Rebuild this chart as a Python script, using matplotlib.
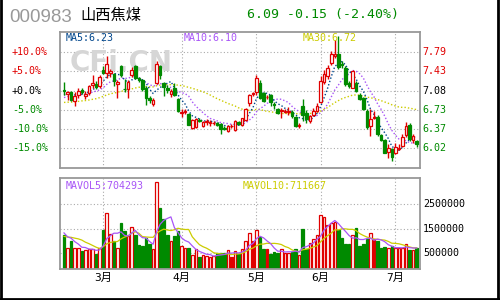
import numpy as np
import pandas as pd
import matplotlib
matplotlib.use("Agg")
import matplotlib.pyplot as plt
from matplotlib.lines import Line2D

# ---- data (daily bars) ----
opens = [7.09, 7.01, 7.05, 6.88, 6.99, 7.09, 6.98, 7.04, 7.18, 7.21,
         7.16, 7.47, 7.41, 7.40, 7.38, 7.21, 7.54, 7.11, 7.11, 7.36,
         7.53, 7.31, 7.28, 7.13, 6.95, 6.83, 7.22, 7.53, 7.22, 7.13,
         7.01, 7.13, 6.93, 6.66, 6.69, 6.64, 6.38, 6.40, 6.54, 6.42,
         6.50, 6.48, 6.47, 6.47, 6.46, 6.39, 6.33, 6.42, 6.35, 6.49,
         6.45, 6.53, 6.84, 7.02, 7.06, 7.22, 7.03, 6.96, 6.99, 6.83,
         6.74, 6.70, 6.69, 6.69, 6.69, 6.59, 6.43, 6.80, 6.66, 6.51,
         6.62, 6.71, 6.86, 7.24, 7.35, 7.59, 7.72, 7.75, 7.58, 7.50,
         7.22, 7.13, 7.22, 7.00, 6.94, 6.70, 6.42, 6.58, 6.59, 6.26,
         6.16, 5.94, 5.99, 5.93, 6.00, 6.05, 6.25, 6.45, 6.17, 6.14]
highs = [7.23, 7.08, 7.07, 7.05, 7.12, 7.12, 7.08, 7.19, 7.36, 7.25,
         7.37, 7.54, 7.72, 7.48, 7.41, 7.27, 7.56, 7.30, 7.27, 7.52,
         7.56, 7.34, 7.30, 7.16, 6.97, 6.95, 7.62, 7.55, 7.24, 7.18,
         7.11, 7.22, 6.95, 6.74, 6.74, 6.66, 6.55, 6.58, 6.57, 6.51,
         6.56, 6.53, 6.51, 6.49, 6.48, 6.42, 6.45, 6.46, 6.53, 6.52,
         6.58, 6.76, 7.02, 7.06, 7.36, 7.28, 7.05, 7.00, 7.02, 6.86,
         6.76, 6.76, 6.74, 6.77, 6.72, 6.61, 6.47, 6.93, 6.72, 6.63,
         6.76, 6.85, 7.35, 7.46, 7.55, 7.82, 8.02, 8.09, 7.62, 7.53,
         7.25, 7.47, 7.25, 7.03, 6.96, 6.73, 6.73, 6.71, 6.62, 6.28,
         6.18, 6.08, 6.02, 6.10, 6.08, 6.28, 6.49, 6.47, 6.27, 6.17]
lows = [6.99, 6.90, 6.89, 6.79, 6.95, 7.02, 6.93, 7.00, 7.12, 7.10,
        7.13, 7.38, 7.32, 7.33, 7.16, 6.94, 7.33, 7.06, 6.94, 7.33,
        7.30, 7.24, 7.08, 6.82, 6.85, 6.80, 7.20, 7.30, 6.98, 7.04,
        6.96, 6.98, 6.68, 6.59, 6.64, 6.44, 6.36, 6.38, 6.50, 6.40,
        6.45, 6.43, 6.44, 6.43, 6.28, 6.35, 6.31, 6.38, 6.33, 6.44,
        6.43, 6.52, 6.80, 6.97, 7.00, 6.93, 6.87, 6.93, 6.80, 6.74,
        6.64, 6.57, 6.66, 6.62, 6.58, 6.40, 6.38, 6.51, 6.48, 6.47,
        6.60, 6.68, 6.84, 7.20, 7.30, 7.55, 7.68, 7.48, 7.50, 7.17,
        7.12, 7.12, 7.05, 6.90, 6.72, 6.37, 6.24, 6.55, 6.24, 6.14,
        5.92, 5.83, 5.77, 5.90, 5.97, 6.03, 6.22, 6.15, 6.10, 6.03]
closes = [7.08, 7.05, 6.91, 6.98, 7.07, 7.06, 7.01, 7.16, 7.22, 7.15,
          7.33, 7.41, 7.57, 7.44, 7.25, 7.23, 7.36, 7.10, 7.23, 7.47,
          7.32, 7.27, 7.11, 6.94, 6.90, 6.91, 7.58, 7.36, 7.14, 7.09,
          7.07, 6.99, 6.70, 6.68, 6.70, 6.45, 6.53, 6.56, 6.52, 6.49,
          6.51, 6.49, 6.48, 6.45, 6.37, 6.37, 6.43, 6.42, 6.51, 6.46,
          6.57, 6.74, 7.00, 7.02, 7.32, 6.95, 6.89, 6.96, 6.86, 6.81,
          6.66, 6.72, 6.71, 6.71, 6.60, 6.42, 6.44, 6.63, 6.55, 6.60,
          6.70, 6.80, 7.25, 7.38, 7.50, 7.75, 7.76, 7.52, 7.56, 7.20,
          7.17, 7.45, 7.08, 6.92, 6.74, 6.40, 6.55, 6.58, 6.27, 6.16,
          5.93, 6.02, 5.85, 6.04, 6.01, 6.22, 6.42, 6.18, 6.24, 6.09]
volumes = [1260000, 710000, 1010000, 710000, 710000, 600000, 650000, 690000, 690000, 470000,
           710000, 1450000, 2160000, 1290000, 990000, 710000, 1730000, 1420000, 1190000, 1580000,
           1260000, 850000, 810000, 1120000, 880000, 690000, 3410000, 2350000, 1900000, 1260000,
           1010000, 1200000, 1400000, 780000, 710000, 710000, 420000, 690000, 360000, 420000,
           410000, 360000, 370000, 510000, 510000, 510000, 650000, 360000, 590000, 470000,
           690000, 1010000, 1330000, 1010000, 1450000, 1180000, 690000, 690000, 470000, 550000,
           530000, 690000, 530000, 510000, 550000, 690000, 450000, 1490000, 670000, 910000,
           1080000, 1230000, 2070000, 1970000, 1640000, 1730000, 1780000, 1460000, 1120000, 890000,
           890000, 1230000, 1530000, 780000, 880000, 1090000, 1330000, 1090000, 1010000, 710000,
           740000, 710000, 780000, 710000, 710000, 710000, 880000, 640000, 640000, 710000]

# closes / volumes before the first shown day (estimated from where the MA lines start)
prior_closes = [6.92, 6.88, 6.85, 6.80, 6.78, 6.82, 6.86, 6.83, 6.79, 6.75,
                6.72, 6.76, 6.80, 6.84, 6.81, 6.78, 6.80, 6.83, 6.86, 6.82,
                6.86, 6.90, 6.93, 6.88, 6.93, 6.95, 6.99, 7.00, 6.98]
prior_volumes = [1000000, 1100000, 1050000, 1000000, 1100000, 1500000, 1300000, 1400000, 1200000]

base_price = 7.08
pct_levels = [10, 5, 0, -5, -10, -15]
vol_levels = [500000, 1500000, 2500000]
month_idx = [11, 33, 54, 72, 93]
month_labels = ["3月", "4月", "5月", "6月", "7月"]

code = "000983"
name = "山西焦煤"
quote = "6.09 -0.15 (-2.40%)"
ma_texts = ["MA5:6.23", "MA10:6.10", "MA30:6.72"]
vol_texts = ["MAVOL5:704293", "MAVOL10:711667"]

RED = "#e00000"
GREEN = "#008a00"
MA5_C = "#00468c"
MA10_C = "#a855f7"
MA30_C = "#cccc00"
GRID = "#aaaaaa"
FRAME = "#999999"
MONO = ["DejaVu Sans Mono", "Noto Sans CJK SC"]


def main():
    n = len(closes)
    idx = np.arange(n)
    o = np.array(opens)
    h = np.array(highs)
    l = np.array(lows)
    c = np.array(closes)
    v = np.array(volumes, dtype=float)

    all_c = pd.Series(prior_closes + closes)
    ma5 = all_c.rolling(5).mean().values[-n:]
    ma10 = all_c.rolling(10).mean().values[-n:]
    ma30 = all_c.rolling(30).mean().values[-n:]
    all_v = pd.Series(prior_volumes + volumes, dtype=float)
    mv5 = all_v.rolling(5).mean().values[-n:]
    mv10 = all_v.rolling(10).mean().values[-n:]

    up = c > o
    flat = c == o
    col = np.where(up | flat, RED, GREEN)

    fig = plt.figure(figsize=(5, 3), dpi=100)
    fig.patch.set_facecolor("white")

    W, H = 500.0, 300.0
    def fx(px):
        return px / W
    def fy(py):
        return 1 - py / H

    xlo, xhi = (60 - 64) / 3.563, (420 - 64) / 3.563

    # ---------- price panel ----------
    ax = fig.add_axes([fx(60), fy(168), fx(360), (168 - 31.5) / H])
    ax.set_xlim(xlo, xhi)
    ax.set_ylim(5.643, 8.176)

    price_levels = [base_price * (1 + p / 100.0) for p in pct_levels]
    for y in price_levels:
        ax.axhline(y, color=GRID, lw=0.8, ls=(0, (1, 2)), zorder=0)
    for m in month_idx:
        ax.axvline(m, color=GRID, lw=0.8, ls=(0, (1, 2)), zorder=0)

    ax.text(fx(70 - 60) / fx(360), 0.77, "CFi.CN", transform=ax.transAxes,
            fontsize=20, fontweight="bold", color="#d6d6d6", va="center",
            ha="left", zorder=0.5)

    ax.plot(idx, ma30, color=MA30_C, lw=1, ls=(0, (1, 1.5)), zorder=1.5)
    ax.plot(idx, ma10, color=MA10_C, lw=1, ls=(0, (1, 1.5)), zorder=1.5)
    ax.plot(idx, ma5, color=MA5_C, lw=1, ls=(0, (1, 1.5)), zorder=1.5)

    ax.vlines(idx, l, h, colors=col, lw=1, zorder=2)
    body_lo = np.minimum(o, c)
    body_h = np.maximum(np.abs(c - o), 0.006)
    face = np.where(up, "white", col)
    ax.bar(idx, body_h, bottom=body_lo, width=0.72, color=face,
           edgecolor=col, linewidth=0.9, zorder=3)

    for s in ax.spines.values():
        s.set_color(FRAME)
        s.set_linewidth(1.3)
    ax.set_xticks([])
    ax.set_yticks([])

    for p, y in zip(pct_levels, price_levels):
        tc = RED if p > 0 else ("black" if p == 0 else GREEN)
        yy = ax.transData.transform((0, y))[1]
        yf = fig.transFigure.inverted().transform((0, yy))[1]
        fig.text(fx(12), yf, "%+.1f%%" % p, color=tc, fontsize=7.2,
                 family=MONO, va="center", ha="left")
        fig.text(fx(422), yf, "%.2f" % y, color=tc, fontsize=7.2,
                 family=MONO, va="center", ha="left")

    for t, xp, cc in zip(ma_texts, [66, 184, 303], [MA5_C, MA10_C, MA30_C]):
        fig.text(fx(xp), fy(38), t, color=cc, fontsize=7.2, family=MONO,
                 va="center", ha="left")

    # ---------- volume panel ----------
    vlo, vhi = -140000, 3560000
    ax2 = fig.add_axes([fx(60), fy(269), fx(360), (269 - 178.3) / H])
    ax2.set_xlim(xlo, xhi)
    ax2.set_ylim(vlo, vhi)
    for y in vol_levels:
        ax2.axhline(y, color=GRID, lw=0.8, ls=(0, (1, 2)), zorder=0)
    for m in month_idx:
        ax2.axvline(m, color=GRID, lw=0.8, ls=(0, (1, 2)), zorder=0)

    ax2.bar(idx, v - vlo, bottom=vlo, width=0.72, color=face,
            edgecolor=col, linewidth=0.9, zorder=2)
    ax2.plot(idx, mv10, color=MA30_C, lw=0.9, zorder=4)
    ax2.plot(idx, mv5, color=MA10_C, lw=0.9, zorder=4)

    for s in ax2.spines.values():
        s.set_color(FRAME)
        s.set_linewidth(1.3)
    ax2.set_xticks([])
    ax2.set_yticks([])

    for y in vol_levels:
        yy = ax2.transData.transform((0, y))[1]
        yf = fig.transFigure.inverted().transform((0, yy))[1]
        fig.text(fx(423), yf, str(y), color="black", fontsize=7.2,
                 family=MONO, va="center", ha="left")

    for m, lab in zip(month_idx, month_labels):
        xx = ax2.transData.transform((m, 0))[0]
        xf = fig.transFigure.inverted().transform((xx, 0))[0]
        fig.text(xf, fy(277.5), lab, color="black", fontsize=8,
                 family=MONO, va="center", ha="center")

    for t, xp, cc in zip(vol_texts, [66, 243], [MA10_C, MA30_C]):
        fig.text(fx(xp), fy(186), t, color=cc, fontsize=7.2, family=MONO,
                 va="center", ha="left")

    # ---------- header ----------
    fig.text(fx(9), fy(17.5), code, color="#999999", fontsize=13.5,
             family="Liberation Sans", va="center", ha="left")
    fig.text(fx(80), fy(15), name, color="black", fontsize=11,
             family="Noto Sans CJK SC", va="center", ha="left")
    fig.text(fx(247), fy(14.5), quote, color=GREEN, fontsize=9.5,
             family=MONO, va="center", ha="left")

    # outer frame (left, right, bottom)
    for xs, ys in [([0.002, 0.002], [0, 1]), ([0.996, 0.996], [0, 1]),
                   ([0, 1], [0.004, 0.004])]:
        fig.add_artist(Line2D(xs, ys, transform=fig.transFigure,
                              color="black", lw=2))

    fig.savefig("out.png", dpi=100)


if __name__ == "__main__":
    main()
